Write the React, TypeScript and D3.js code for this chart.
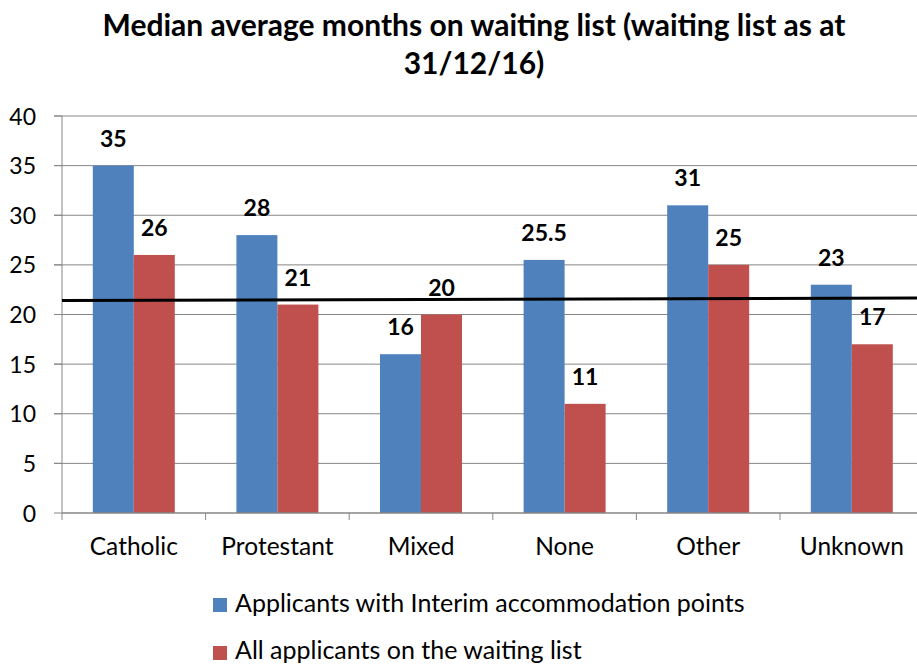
import React from "react";
import * as d3 from "d3";

const categories = ["Catholic", "Protestant", "Mixed", "None", "Other", "Unknown"];
const seriesNames = ["Applicants with Interim accommodation points", "All applicants on the waiting list"];
const interimValues = [35, 28, 16, 25.5, 31, 23];
const allValues = [26, 21, 20, 11, 25, 17];
const averageLine = [21.4, 21.65];
const yTicks = [0, 5, 10, 15, 20, 25, 30, 35, 40];
const titleLines = ["Median average months on waiting list (waiting list as at", "31/12/16)"];
const colors = ["#4F81BD", "#C0504D"];

const W = 917;
const H = 664;
const FONT = "Lato, 'Open Sans', sans-serif";

export default function App() {
  const left = 62;
  const step = 143.6;
  const x0 = d3.scaleBand<string>().domain(categories).range([left, left + step * categories.length]).padding(0);
  const x1 = d3.scaleBand<string>().domain(seriesNames).range([30.8, 112.8]).padding(0);
  const y = d3.scaleLinear().domain([0, 40]).range([513, 116]);
  const values = [interimValues, allValues];

  return (
    <svg width={W} height={H} style={{ position: "absolute", left: 0, top: 0, background: "#fff" }} fontFamily={FONT}>
      {titleLines.map((t, i) => (
        <text key={i} x={474} y={36 + i * 38} textAnchor="middle" fontSize={30} fontWeight="bold" fill="#000">
          {t}
        </text>
      ))}
      {yTicks.map((t) => (
        <g key={t}>
          {t > 0 && <line x1={54} x2={W} y1={y(t)} y2={y(t)} stroke="#868686" strokeWidth={1} />}
          <line x1={54} x2={left} y1={y(t)} y2={y(t)} stroke="#868686" strokeWidth={1} />
          <text x={36} y={y(t) + 8.5} textAnchor="end" fontSize={23} fill="#000">
            {t}
          </text>
        </g>
      ))}
      {categories.map((c, ci) => (
        <g key={c}>
          {seriesNames.map((s, si) => {
            const v = values[si][ci];
            const bx = (x0(c) as number) + (x1(s) as number);
            return (
              <g key={s}>
                <rect x={bx} y={y(v)} width={x1.bandwidth()} height={y(0) - y(v)} fill={colors[si]} />
                <text x={bx + x1.bandwidth() / 2} y={y(v) - 19} textAnchor="middle" fontSize={23} fontWeight="bold" fill="#000">
                  {v}
                </text>
              </g>
            );
          })}
          <text x={(x0(c) as number) + x0.bandwidth() / 2} y={555} textAnchor="middle" fontSize={24.5} fill="#000">
            {c}
          </text>
        </g>
      ))}
      <line x1={left} x2={left} y1={y(40)} y2={y(0) + 7} stroke="#868686" strokeWidth={1} />
      <line x1={left} x2={W} y1={y(0)} y2={y(0)} stroke="#868686" strokeWidth={1.5} />
      {categories.map((c, i) => (
        <line key={c} x1={left + step * (i + 1)} x2={left + step * (i + 1)} y1={y(0)} y2={y(0) + 7} stroke="#868686" strokeWidth={1} />
      ))}
      <line x1={left} x2={W} y1={y(averageLine[0])} y2={y(averageLine[1])} stroke="#000" strokeWidth={3} />
      {seriesNames.map((s, i) => (
        <g key={s}>
          <rect x={213} y={598 + i * 48} width={14} height={14} fill={colors[i]} />
          <text x={235} y={612 + i * 47} fontSize={25} fill="#000">
            {s}
          </text>
        </g>
      ))}
    </svg>
  );
}
